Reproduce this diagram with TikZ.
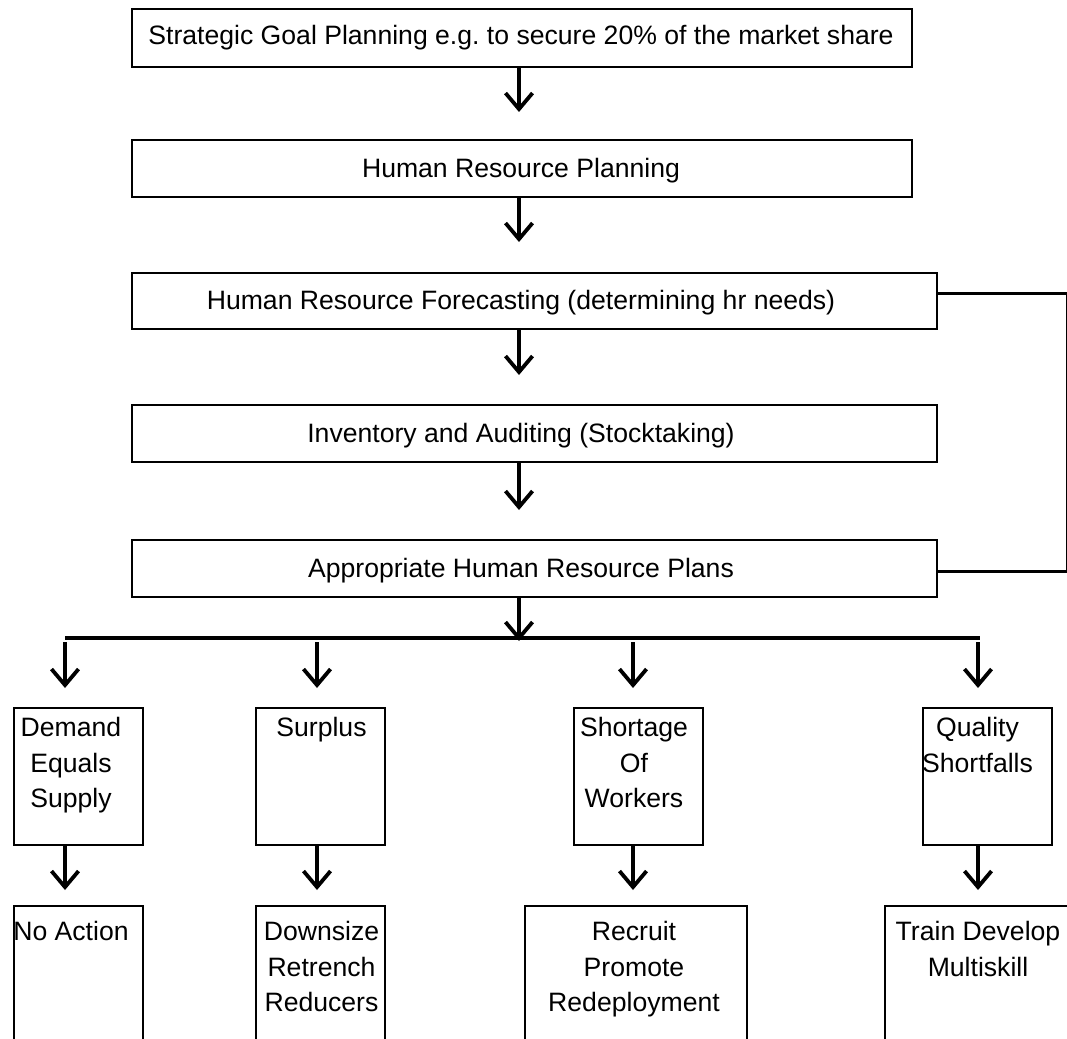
\documentclass[tikz,border=0pt]{standalone}
\usepackage{fontspec}
\setmainfont{Liberation Sans}
\usetikzlibrary{arrows.meta}
\frenchspacing
\begin{document}
\begin{tikzpicture}[x=1pt,y=-1pt,
  box/.style={draw, line width=2.2pt, rectangle, inner sep=0pt, anchor=north west},
  lbl/.style={inner sep=0pt, font=\fontsize{26.6pt}{35.5pt}\selectfont, align=center},
  arr/.style={line width=3.8pt, -{Straight Barb[length=16pt,width=27pt]}},
  bus/.style={line width=3.2pt},
  fb/.style={line width=2.8pt}]
\useasboundingbox (0,0) rectangle (1067,1038);
\clip (0,0) rectangle (1067,1038);
\fill[white] (0,0) rectangle (1067,1038);

% axis of the main chain
\coordinate (spine) at (519,0);

% main chain of planning steps
\node[box, minimum width=780pt, minimum height=58pt] (b1) at (131,8) {};
\node[box, minimum width=780pt, minimum height=57pt] (b2) at (131,139) {};
\node[box, minimum width=805pt, minimum height=56pt] (b3) at (131,272) {};
\node[box, minimum width=805pt, minimum height=57pt] (b4) at (131,404) {};
\node[box, minimum width=805pt, minimum height=57pt] (b5) at (131,539) {};

\node[lbl, anchor=base] (t1) at (521,45) {Strategic Goal Planning e.g. to secure 20\% of the market share};
\node[lbl, anchor=base] (t2) at (521,177) {Human Resource Planning};
\node[lbl, anchor=base] (t3) at (521,309.5) {Human Resource Forecasting (determining hr needs)};
\node[lbl, anchor=base] (t4) at (521,442) {Inventory and Auditing (Stocktaking)};
\node[lbl, anchor=base] (t5) at (521,577) {Appropriate Human Resource Plans};

\draw[arr, shorten >=27pt] (b1.south -| spine) -- (b2.north -| spine);
\draw[arr, shorten >=30pt] (b2.south -| spine) -- (b3.north -| spine);
\draw[arr, shorten >=29pt] (b3.south -| spine) -- (b4.north -| spine);
\draw[arr, shorten >=29pt] (b4.south -| spine) -- (b5.north -| spine);

% feedback loop from forecasting to plans
\draw[fb] ([yshift=8pt]b3.east) -- ++(129,0) |- ([yshift=-2.5pt]b5.east);

% distribution bus
\coordinate (busL) at (65,638);
\coordinate (busR) at (980,638);
\coordinate (busM) at (519,641);
\draw[arr] (b5.south -| spine) -- (busM);
\draw[bus] (busL) -- (busR);

\coordinate (k1) at (65,642);
\coordinate (k2) at (317,642);
\coordinate (k3) at (633,642);
\coordinate (k4) at (978,642);

% situation boxes
\node[box, minimum width=129pt, minimum height=137pt] (c1) at (13,707) {};
\node[box, minimum width=129pt, minimum height=137pt] (c2) at (255,707) {};
\node[box, minimum width=129pt, minimum height=137pt] (c3) at (573,707) {};
\node[box, minimum width=129pt, minimum height=137pt] (c4) at (922,707) {};

\node[lbl, anchor=north] (tc1) at (71,717.5) {Demand\\Equals\\Supply};
\node[lbl, anchor=north] (tc2) at (321.5,717.5) {Surplus};
\node[lbl, anchor=north] (tc3) at (634,717.5) {Shortage\\Of\\Workers};
\node[lbl, anchor=north] (tc4) at (977.5,717.5) {Quality\\Shortfalls};

% action boxes
\node[box, minimum width=129pt, minimum height=160pt] (d1) at (13,905) {};
\node[box, minimum width=129pt, minimum height=160pt] (d2) at (255,905) {};
\node[box, minimum width=222pt, minimum height=160pt] (d3) at (524,905) {};
\node[box, minimum width=220pt, minimum height=160pt] (d4) at (884,905) {};

\node[lbl, anchor=north] (td1) at (71,921.5) {No Action};
\node[lbl, anchor=north] (td2) at (321.5,921.5) {Downsize\\Retrench\\Reducers};
\node[lbl, anchor=north] (td3) at (634,921.5) {Recruit\\Promote\\Redeployment};
\node[lbl, anchor=north] (td4) at (978,921.5) {Train Develop\\Multiskill};

\foreach \i in {1,...,4} {
  \draw[arr, shorten >=19pt] (k\i) -- (k\i |- c\i.north);
  \draw[arr, shorten >=15pt] (k\i |- c\i.south) -- (k\i |- d\i.north);
}
\end{tikzpicture}
\end{document}
